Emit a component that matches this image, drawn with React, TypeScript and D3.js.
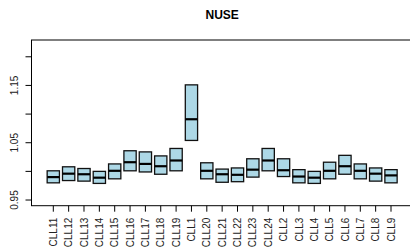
import React, { useEffect, useRef } from 'react';
import * as d3 from 'd3';

// sample names, in plot order
const samples = [
  'CLL11', 'CLL12', 'CLL13', 'CLL14', 'CLL15', 'CLL16', 'CLL17', 'CLL18', 'CLL19',
  'CLL1', 'CLL20', 'CLL21', 'CLL22', 'CLL23', 'CLL24', 'CLL2',
  'CLL3', 'CLL4', 'CLL5', 'CLL6', 'CLL7', 'CLL8', 'CLL9',
];

// box stats
const lowerHinge = [
  0.980, 0.984, 0.983, 0.979, 0.987, 1.001, 0.999, 0.995, 1.001,
  1.054, 0.987, 0.981, 0.982, 0.990, 1.001, 0.991,
  0.980, 0.979, 0.987, 0.995, 0.987, 0.983, 0.980,
];
const medians = [
  0.990, 0.996, 0.995, 0.989, 1.001, 1.016, 1.013, 1.009, 1.019,
  1.091, 1.001, 0.995, 0.994, 1.003, 1.019, 1.002,
  0.991, 0.989, 1.001, 1.009, 1.001, 0.996, 0.993,
];
const upperHinge = [
  1.001, 1.008, 1.005, 1.000, 1.013, 1.036, 1.034, 1.027, 1.040,
  1.151, 1.015, 1.004, 1.006, 1.022, 1.040, 1.022,
  1.003, 1.000, 1.016, 1.028, 1.013, 1.006, 1.003,
];

const yTicks = [0.95, 1.0, 1.05, 1.1, 1.15, 1.2];
const yLabels = ['0.95', '', '1.05', '', '1.15', ''];

const App = () => {
  const svgRef = useRef<SVGSVGElement>(null);

  useEffect(() => {
    const svg = d3.select(svgRef.current);
    svg.selectAll('*').remove();

    const font = 'Liberation Sans, Arial, Helvetica, sans-serif';
    const n = samples.length;
    const plot = { left: 31.5, right: 412.8, top: 40, bottom: 205.7 };

    // R style: 0.5..n+0.5 padded by 4%
    const pad = 0.04 * n;
    const x = d3.scaleLinear()
      .domain([0.5 - pad, n + 0.5 + pad])
      .range([plot.left, plot.right]);

    const y = d3.scaleLinear()
      .domain([0.9401, 1.2293])
      .range([plot.bottom, plot.top]);

    const boxW = x(0.8) - x(0);

    // boxes
    const g = svg.append('g');
    samples.forEach((s, i) => {
      const cx = x(i + 1);
      g.append('rect')
        .attr('x', cx - boxW / 2)
        .attr('y', y(upperHinge[i]))
        .attr('width', boxW)
        .attr('height', y(lowerHinge[i]) - y(upperHinge[i]))
        .attr('fill', '#ADD8E6')
        .attr('stroke', '#111')
        .attr('stroke-width', 1.3);
      g.append('line')
        .attr('x1', cx - boxW / 2)
        .attr('x2', cx + boxW / 2)
        .attr('y1', y(medians[i]))
        .attr('y2', y(medians[i]))
        .attr('stroke', '#000')
        .attr('stroke-width', 2.2);
    });

    // frame
    svg.append('rect')
      .attr('x', plot.left)
      .attr('y', plot.top)
      .attr('width', plot.right - plot.left)
      .attr('height', plot.bottom - plot.top)
      .attr('fill', 'none')
      .attr('stroke', '#000')
      .attr('stroke-width', 1);

    // x axis
    const xAxis = svg.append('g');
    samples.forEach((s, i) => {
      const cx = x(i + 1);
      xAxis.append('line')
        .attr('x1', cx).attr('x2', cx)
        .attr('y1', plot.bottom).attr('y2', plot.bottom + 6)
        .attr('stroke', '#000');
      xAxis.append('text')
        .attr('transform', `translate(${cx + 3.6}, ${plot.bottom + 12}) rotate(-90)`)
        .attr('text-anchor', 'end')
        .attr('font-family', font)
        .attr('font-size', 10)
        .attr('fill', '#222')
        .text(s);
    });

    // y axis
    const yAxis = svg.append('g');
    yTicks.forEach((t, i) => {
      yAxis.append('line')
        .attr('x1', plot.left - 6).attr('x2', plot.left)
        .attr('y1', y(t)).attr('y2', y(t))
        .attr('stroke', '#000');
      if (yLabels[i]) {
        yAxis.append('text')
          .attr('transform', `translate(${plot.left - 14}, ${y(t)}) rotate(-90)`)
          .attr('text-anchor', 'middle')
          .attr('font-family', font)
          .attr('font-size', 10)
          .attr('fill', '#222')
          .text(yLabels[i]);
      }
    });

    // title
    svg.append('text')
      .attr('x', (plot.left + plot.right) / 2)
      .attr('y', 18.5)
      .attr('text-anchor', 'middle')
      .attr('font-family', font)
      .attr('font-size', 12)
      .attr('font-weight', 'bold')
      .text('NUSE');
  }, []);

  return (
    <svg
      ref={svgRef}
      width={410}
      height={248}
      style={{ position: 'absolute', left: 0, top: 0, background: '#fff' }}
    ></svg>
  );
};

export default App;
